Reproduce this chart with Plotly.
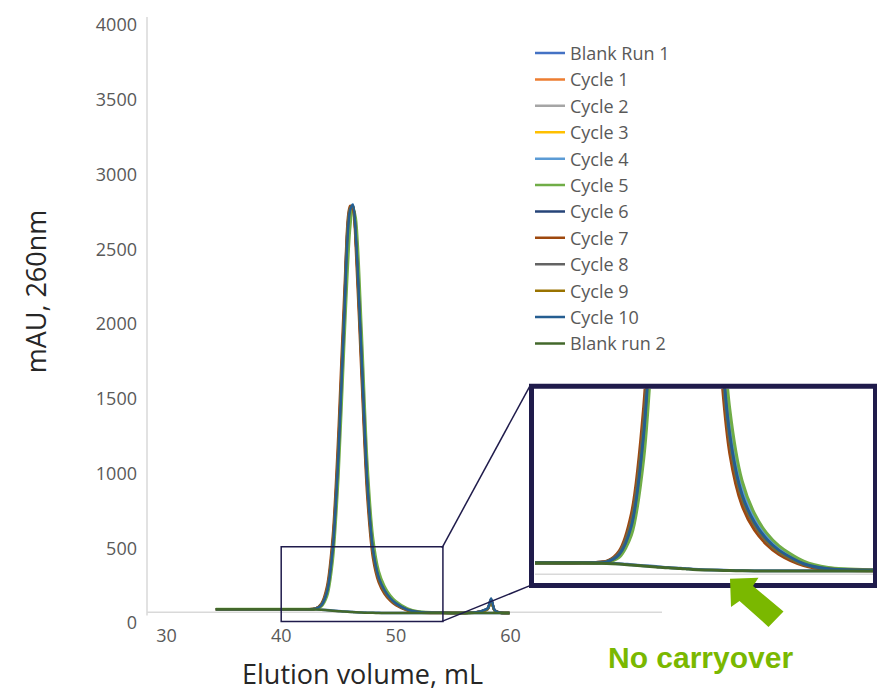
import plotly.graph_objects as go

W, H = 877, 691      # target picture size (all positions below are given in these pixels)
FIG_H = 703          # figure height: compensates the vertical squeeze seen in the rendered page

# ---------------- data ----------------
elution_ml = [34.3, 36, 38, 40, 42, 43, 43.5, 44, 44.5, 45, 45.5, 46, 46.25, 46.5, 47, 47.5,
              48, 48.5, 49, 49.5, 50, 51, 52, 54, 56, 57, 57.5, 58, 58.3, 58.6, 59, 59.9]

series_names = ["Blank Run 1", "Cycle 1", "Cycle 2", "Cycle 3", "Cycle 4", "Cycle 5",
                "Cycle 6", "Cycle 7", "Cycle 8", "Cycle 9", "Cycle 10", "Blank run 2"]

blank_run_1 = [93, 93, 93, 93, 93, 92, 90, 87, 84, 81, 78, 76, 74.5, 73, 71, 70,
               69, 68.5, 68, 68, 68, 68, 68, 68, 68, 68, 68, 68, 68, 68, 68, 68]
cycle_1 = [93, 93, 93, 93, 93, 97, 124, 228, 540, 1210, 2110, 2760, 2785, 2565, 1740, 910,
           470, 292, 210, 160, 126, 88, 73, 69, 68, 72, 79, 94, 148, 85, 71, 68]
cycle_2 = [92, 92, 92, 92, 92, 95, 118, 208, 495, 1130, 2040, 2750, 2795, 2615, 1800, 955,
           493, 303, 218, 166, 130, 90, 74, 69, 68, 71, 78, 92, 140, 84, 70, 68]
cycle_3 = [93, 93, 93, 93, 93, 96, 120, 215, 510, 1160, 2070, 2765, 2790, 2585, 1780, 940,
           485, 300, 216, 164, 129, 89, 74, 69, 68, 72, 80, 95, 150, 86, 71, 68]
cycle_4 = [93, 93, 93, 93, 93, 95, 116, 200, 480, 1110, 2010, 2740, 2800, 2635, 1840, 990,
           520, 325, 234, 176, 139, 94, 76, 70, 68, 72, 80, 96, 152, 86, 71, 68]
cycle_5 = [94, 94, 94, 94, 94, 95, 110, 180, 420, 990, 1870, 2630, 2780, 2710, 1980, 1090,
           575, 350, 248, 186, 146, 98, 78, 70, 68, 71, 78, 93, 145, 84, 70, 68]
cycle_6 = [93, 93, 93, 93, 93, 97, 122, 222, 525, 1185, 2095, 2770, 2785, 2570, 1760, 925,
           477, 296, 213, 162, 127, 88, 73, 69, 68, 72, 80, 96, 158, 86, 71, 68]
cycle_7 = [93, 93, 93, 93, 93, 98, 130, 248, 585, 1290, 2200, 2790, 2770, 2515, 1660, 850,
           435, 272, 196, 150, 119, 84, 71, 68, 68, 72, 81, 97, 160, 87, 71, 68]
cycle_8 = [93, 93, 93, 93, 93, 97, 124, 226, 535, 1200, 2105, 2775, 2785, 2565, 1745, 915,
           473, 294, 211, 160, 126, 88, 73, 69, 68, 72, 80, 95, 152, 86, 71, 68]
cycle_9 = [93, 93, 93, 93, 93, 96, 120, 216, 512, 1165, 2075, 2765, 2790, 2585, 1775, 938,
           485, 300, 216, 164, 129, 89, 74, 69, 68, 71, 79, 94, 146, 85, 70, 68]
cycle_10 = [93, 93, 93, 93, 93, 96, 119, 210, 500, 1140, 2050, 2760, 2795, 2600, 1795, 950,
            493, 306, 220, 167, 132, 90, 74, 69, 68, 73, 82, 98, 165, 88, 71, 68]
blank_run_2 = [92, 92, 92, 92, 92, 91, 89, 86, 83, 80, 77, 75, 73.5, 72, 70.5, 69.5,
               68.5, 68, 67.5, 67.5, 67.5, 67.5, 67.5, 67.5, 67.5, 67.5, 67.5, 67.5, 67.5, 67.5, 67.5, 67.5]

series_values = [blank_run_1, cycle_1, cycle_2, cycle_3, cycle_4, cycle_5,
                 cycle_6, cycle_7, cycle_8, cycle_9, cycle_10, blank_run_2]

x_ticks = [30, 40, 50, 60]
y_ticks = [0, 500, 1000, 1500, 2000, 2500, 3000, 3500, 4000]

# ---------------- styles ----------------
colors = ["#4472C4", "#ED7D31", "#A5A5A5", "#FFC000", "#5B9BD5", "#70AD47",
          "#264478", "#9E480E", "#636363", "#997300", "#255E91", "#43682B"]
NAVY = "#1f1b4b"
AXIS_GREY = "#d9d9d9"
TEXT_GREY = "#595959"
GREEN = "#7ab800"
FONT = "Open Sans"


def px(x):
    return x / W


def py(y):
    return 1 - y / H


fig = go.Figure()

for name, vals, col in zip(series_names, series_values, colors):
    fig.add_trace(go.Scatter(x=elution_ml, y=vals, name=name, mode="lines",
                             line=dict(color=col, width=2.5, shape="spline", smoothing=0.8),
                             legendgroup=name, xaxis="x", yaxis="y"))

for name, vals, col in zip(series_names, series_values, colors):
    fig.add_trace(go.Scatter(x=elution_ml, y=vals, name=name, mode="lines",
                             line=dict(color=col, width=3, shape="spline", smoothing=0.8),
                             showlegend=False, legendgroup=name, xaxis="x2", yaxis="y2",
                             hoverinfo="skip"))

shapes = [
    # main axis lines
    dict(type="line", xref="paper", yref="paper", x0=px(147), x1=px(147), y0=py(614), y1=py(12),
         line=dict(color=AXIS_GREY, width=1.5), layer="below"),
    dict(type="line", xref="paper", yref="paper", x0=px(147), x1=px(662), y0=py(610.7), y1=py(610.7),
         line=dict(color=AXIS_GREY, width=1.5), layer="below"),
    # inset axis line
    dict(type="line", xref="paper", yref="paper", x0=px(535), x1=px(873), y0=py(572.5), y1=py(572.5),
         line=dict(color=AXIS_GREY, width=1.5), layer="below"),
    # zoom rectangle in main plot
    dict(type="rect", xref="x", yref="y", x0=40, x1=54.1, y0=10, y1=510,
         line=dict(color=NAVY, width=1.5)),
    # connectors
    dict(type="line", xref="paper", yref="paper", x0=px(442), y0=py(546), x1=px(530), y1=py(383),
         line=dict(color=NAVY, width=1.5)),
    dict(type="line", xref="paper", yref="paper", x0=px(442), y0=py(620), x1=px(530), y1=py(584),
         line=dict(color=NAVY, width=1.5)),
    # inset border
    dict(type="rect", xref="paper", yref="paper", x0=px(531.5), x1=px(875.5), y0=py(584), y1=py(383.5),
         line=dict(color=NAVY, width=5)),
]

arrow_pts = [(730, 577), (758.5, 576), (753, 584.5), (783.5, 610), (768.5, 625.5), (739.5, 599.5), (731, 605.5)]
path = "M " + " L ".join(f"{px(a):.5f},{py(b):.5f}" for a, b in arrow_pts) + " Z"
shapes.append(dict(type="path", xref="paper", yref="paper", path=path,
                   fillcolor=GREEN, line=dict(width=0)))

annotations = [
    dict(text="Elution volume, mL", xref="paper", yref="paper", x=px(362), y=py(672),
         xanchor="center", yanchor="middle", showarrow=False,
         font=dict(family=FONT, size=27, color="#262626")),
    dict(text="mAU, 260nm", xref="paper", yref="paper", x=px(35), y=py(288),
         xanchor="center", yanchor="middle", showarrow=False, textangle=-90,
         font=dict(family=FONT, size=27, color="#262626")),
    dict(text="<b>No carryover</b>", xref="paper", yref="paper", x=px(700), y=py(656),
         xanchor="center", yanchor="middle", showarrow=False,
         font=dict(family="Liberation Sans, Arial", size=30, color=GREEN)),
]

fig.update_layout(
    width=W, height=FIG_H,
    margin=dict(l=0, r=0, t=0, b=0),
    paper_bgcolor="white", plot_bgcolor="rgba(0,0,0,0)",
    font=dict(family=FONT, color=TEXT_GREY),
    xaxis=dict(domain=[px(147), px(662)], range=[28.3, 73.2], tickvals=x_ticks,
               showgrid=False, zeroline=False, showline=False, ticks="",
               tickfont=dict(size=18, color=TEXT_GREY), ticklabelstandoff=0),
    yaxis=dict(domain=[py(622), py(12)], range=[-2, 4053], tickvals=y_ticks,
               showgrid=False, zeroline=False, showline=False, ticks="",
               tickfont=dict(size=18, color=TEXT_GREY), ticklabelstandoff=9),
    xaxis2=dict(domain=[px(535), px(873)], range=[40.08, 53.82], visible=False, anchor="y2"),
    yaxis2=dict(domain=[py(581.5), py(386)], range=[29, 640], visible=False, anchor="x2"),
    legend=dict(x=px(530), y=py(30), xanchor="left", yanchor="top",
                bgcolor="rgba(0,0,0,0)", font=dict(family=FONT, size=18, color=TEXT_GREY),
                tracegroupgap=0),
    shapes=shapes,
    annotations=annotations,
    showlegend=True,
)

fig.write_html("out.html", config={"displayModeBar": False})
